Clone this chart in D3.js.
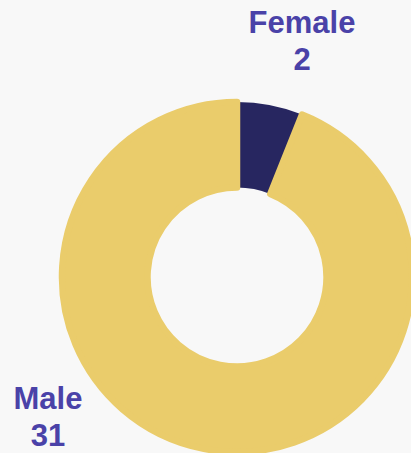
<!DOCTYPE html>
<html lang="en">
<head>
<meta charset="UTF-8">
<style>
    body{
        margin:0;
        background:#f8f8f8;
        font-family:"Liberation Sans", Arial, sans-serif;
    }
    #donut{
        display:block;
    }
    .label{
        fill:#4a42a8;
        font-weight:bold;
        font-size:31px;
        text-anchor:middle;
    }
</style>
<script src="https://d3js.org/d3.v7.min.js"></script>
</head>
<body>
<svg id="donut" width="411" height="453"></svg>
<script>
    var categories = ["Female", "Male"];
    var counts = [2, 31];
    var colors = ["#272660", "#eacc6b"];

    var width = 411, height = 453;
    var cx = 237, cy = 277;
    var outer = 175, inner = 89.5;

    var svg = d3.select("#donut");
    var g = svg.append("g")
        .attr("transform", "translate(" + cx + "," + cy + ")");

    var data = categories.map(function(c, i) { return {name: c, value: counts[i], color: colors[i]}; });

    var pie = d3.pie()
        .sort(null)
        .value(function(d) { return d.value; });

    var arc = d3.arc().innerRadius(inner).outerRadius(outer);

    var arcs = pie(data);

    // female first, male on top with its thick stroke overlapping the edge
    g.selectAll("path")
        .data(arcs)
        .enter().append("path")
        .attr("d", arc)
        .attr("fill", function(d) { return d.data.color; })
        .attr("stroke", function(d) { return d.data.name == "Male" ? d.data.color : "none"; })
        .attr("stroke-width", 6.5)
        .attr("stroke-linejoin", "round");

    // label spots (top right / bottom left, as in the picture)
    var labelPos = {Female: [302, 33], Male: [48, 409]};

    arcs.forEach(function(d) {
        var p = labelPos[d.data.name];
        var t = svg.append("text")
            .attr("class", "label")
            .attr("x", p[0])
            .attr("y", p[1]);
        t.append("tspan").attr("x", p[0]).text(d.data.name);
        t.append("tspan").attr("x", p[0]).attr("dy", 37).text(d.data.value);
    });
</script>
</body>
</html>
